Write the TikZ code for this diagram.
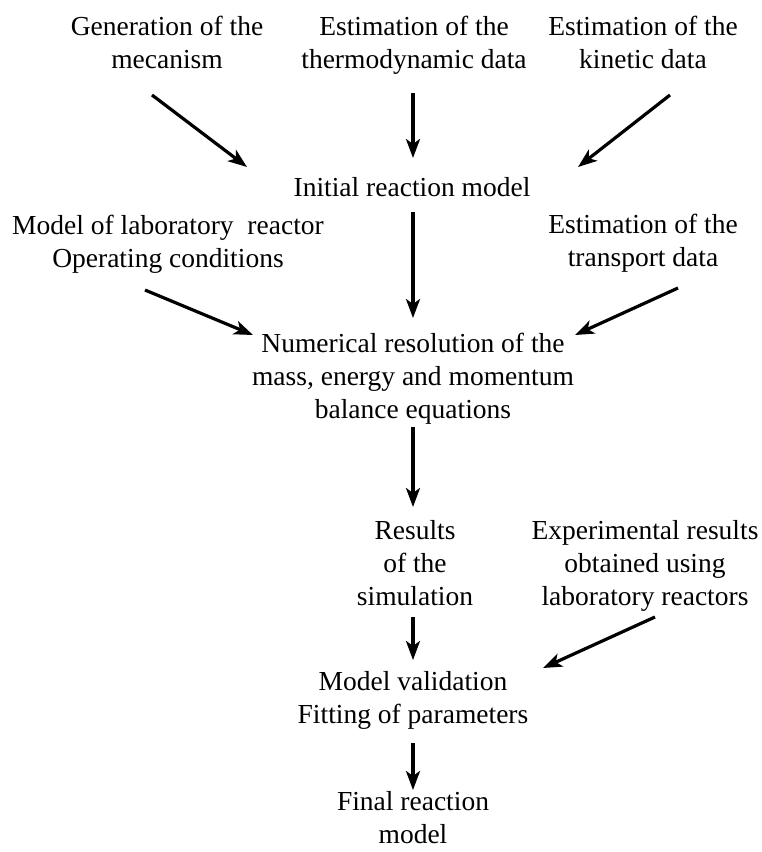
\documentclass[tikz,border=0pt]{standalone}
\usepackage{fontspec}
\setmainfont{Liberation Serif}
\usepackage{tikz}
\usetikzlibrary{arrows.meta, positioning, calc}

\begin{document}
\begin{tikzpicture}[
  x=1pt, y=-1pt,
  txt/.style={align=center, inner sep=0pt, font=\fontsize{27.5}{33}\selectfont},
  arrow/.style={-{Stealth[length=19pt, width=14pt, inset=5pt]}, line width=3.2pt}
]
\useasboundingbox (0,0) rectangle (761,852);

\node[txt] (gen) at (167,42) {Generation of the\\mecanism};
\node[txt] (thermo) at (414,45) {Estimation of the\\thermodynamic data};
\node[txt] (kin) at (643,42) {Estimation of the\\kinetic data};

\node[txt] (init) at (412,187) {Initial reaction model};

\node[txt] (lab) at (168,244) {Model of laboratory\ \ reactor\\Operating conditions};
\node[txt] (transp) at (643,243) {Estimation of the\\transport data};

\node[txt] (num) at (413,379) {Numerical resolution of the\\mass, energy and momentum\\balance equations};

\node[txt] (res) at (415,563) {Results\\of the\\simulation};
\node[txt] (exp) at (645,566) {Experimental results\\obtained using\\laboratory reactors};

\node[txt] (val) at (413,700) {Model validation\\Fitting of parameters};

\node[txt] (fin) at (413,818) {Final reaction\\model};

\draw[arrow] ($(gen)+(-15,53)$) -- ($(init)+(-165,-20)$);
\draw[arrow] ($(thermo)+(-1,48)$) -- ($(init)+(1,-29)$);
\draw[arrow] ($(kin)+(27,53)$) -- ($(init)+(166,-20)$);
\draw[arrow] ($(init)+(1,25)$) -- ($(num)+(0,-61)$);
\draw[arrow] ($(lab)+(-23,46)$) -- ($(num)+(-160,-44)$);
\draw[arrow] ($(transp)+(35,45)$) -- ($(num)+(162,-44)$);
\draw[arrow] ($(num)+(0,48)$) -- ($(res)+(-2,-56)$);
\draw[arrow] ($(res)+(-2,54)$) -- ($(val)+(0,-40)$);
\draw[arrow] ($(exp)+(10,51)$) -- ($(val)+(130,-32)$);
\draw[arrow] ($(val)+(0,43)$) -- ($(fin)+(0,-28)$);
\end{tikzpicture}
\end{document}
